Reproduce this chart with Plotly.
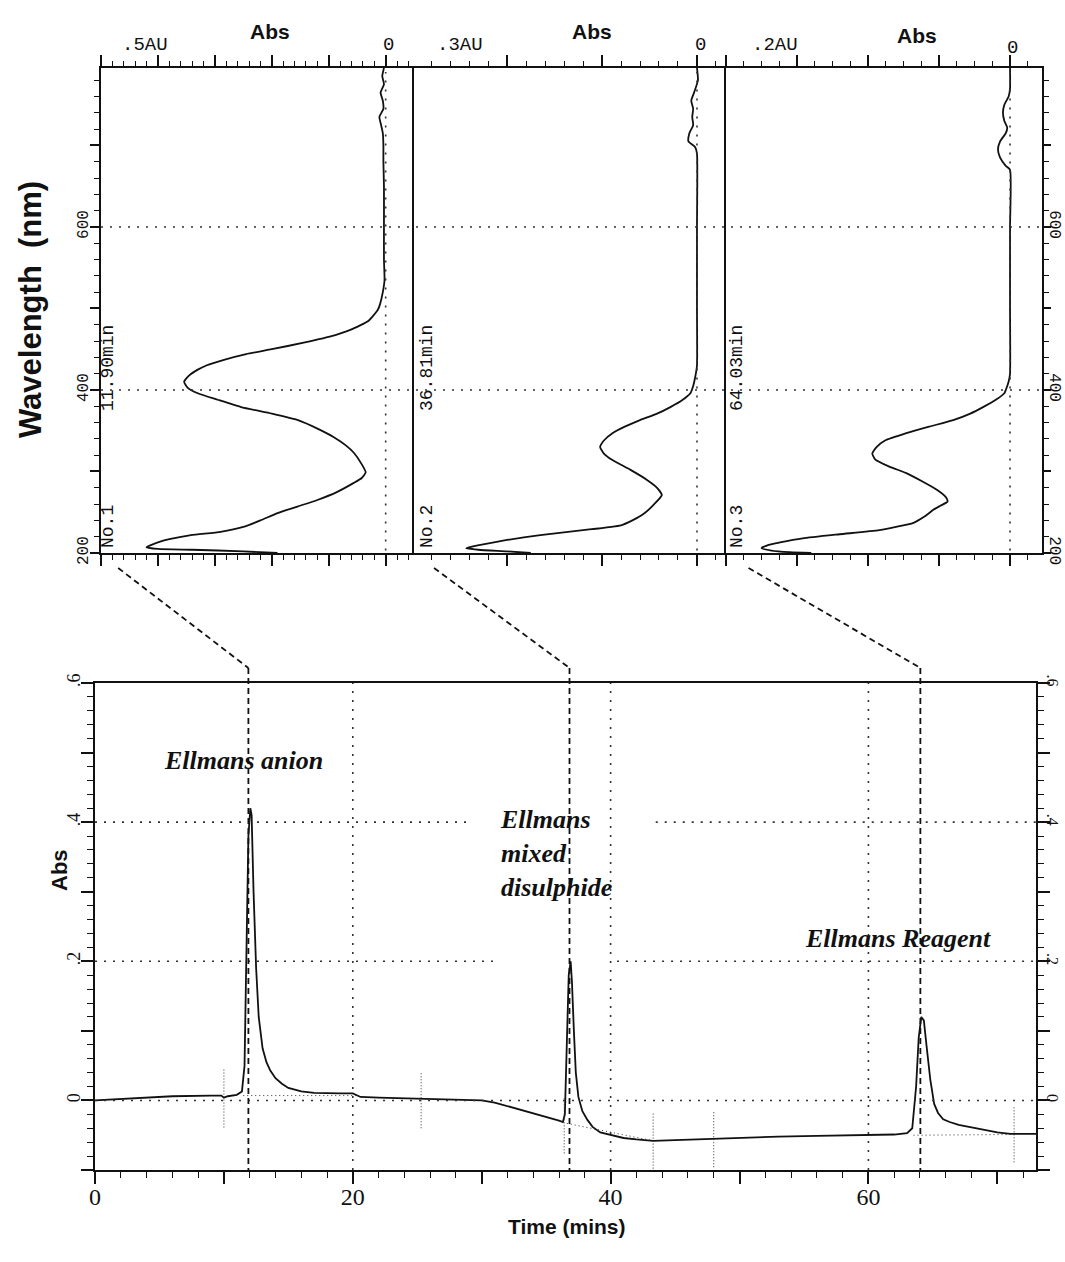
import plotly.graph_objects as go

W, H = 1065, 1262
def PX(px): return px / W
def PY(py): return 1 - py / H

# ---------------- data ----------------
# Spectrum 1 (11.90 min)
P1_WL = [795, 785, 775, 765, 755, 745, 735, 725, 715, 700, 680, 650, 600, 560, 535, 520, 505, 498, 485, 474, 465, 458,
         450, 444, 437, 430, 425, 418, 410, 403, 396, 388, 379, 371, 363, 352, 342, 332, 323, 310, 299, 292,
         286, 275, 265, 257, 249, 240, 232, 226, 222, 217, 213, 207, 205, 204, 202, 200]
P1_ABS = [0.003, 0.006, 0.003, 0.009, 0.005, 0.004, 0.011, 0.008, 0.005, 0.004, 0.004, 0.003, 0.003, 0.003, 0.002, 0.005,
          0.010, 0.014, 0.030, 0.061, 0.100, 0.144, 0.200, 0.245, 0.284, 0.315, 0.330, 0.345, 0.354, 0.348,
          0.330, 0.295, 0.254, 0.200, 0.154, 0.118, 0.091, 0.070, 0.056, 0.043, 0.035, 0.042, 0.056, 0.085,
          0.120, 0.155, 0.190, 0.220, 0.250, 0.290, 0.342, 0.380, 0.400, 0.420, 0.400, 0.340, 0.250, 0.190]
# Spectrum 2 (36.81 min)
P2_WL = [795, 780, 765, 755, 745, 735, 725, 715, 705, 698, 690, 600, 500, 430, 415, 405, 396, 388, 379, 371, 363,
         355, 347, 338, 330, 322, 314, 302, 290, 280, 271, 260, 249, 240, 234, 228, 222, 216, 210, 206, 204, 202, 200]
P2_ABS = [0.000, -0.001, 0.003, 0.006, 0.004, 0.005, 0.004, 0.008, 0.009, 0.002, 0.000, 0.000, 0.000, 0.000,
          0.002, 0.004, 0.007, 0.015, 0.028, 0.042, 0.060, 0.076, 0.089, 0.098, 0.102, 0.098, 0.089, 0.070,
          0.053, 0.042, 0.037, 0.045, 0.055, 0.068, 0.080, 0.120, 0.165, 0.200, 0.228, 0.243, 0.230, 0.200, 0.175]
# Spectrum 3 (64.03 min)
P3_WL = [795, 770, 760, 750, 740, 730, 722, 715, 705, 695, 685, 675, 670, 600, 500, 420, 410, 400, 396, 388, 379,
         371, 363, 355, 347, 338, 330, 322, 315, 306, 298, 288, 277, 268, 263, 258, 253, 245, 237, 228, 223,
         218, 213, 210, 206, 203, 201, 200]
P3_ABS = [0.000, 0.000, 0.001, 0.004, 0.005, 0.004, 0.002, 0.003, 0.007, 0.0085, 0.007, 0.003, 0.000, 0.000, 0.000,
          0.000, 0.001, 0.003, 0.004, 0.010, 0.019, 0.028, 0.040, 0.057, 0.073, 0.088, 0.094, 0.097, 0.095,
          0.085, 0.073, 0.062, 0.051, 0.045, 0.044, 0.049, 0.054, 0.060, 0.068, 0.092, 0.120, 0.146, 0.162,
          0.170, 0.175, 0.168, 0.155, 0.140]

# Chromatogram
T = [0, 3, 6, 9, 9.8, 10, 10.3, 11, 11.4, 11.6, 11.75, 11.9, 12.05, 12.15, 12.3, 12.5, 12.7, 13.0, 13.3, 13.6,
     14.0, 14.5, 15.0, 16, 17, 18, 19, 20, 20.3, 20.6, 22, 24, 26, 28, 30, 31, 32, 33, 34, 35, 36, 36.3, 36.45,
     36.6, 36.75, 36.9, 37.0, 37.15, 37.3, 37.5, 37.8, 38.2, 38.6, 39.2, 40, 41, 42, 43.3, 45, 48, 50, 53, 56,
     60, 62, 63, 63.4, 63.7, 63.9, 64.1, 64.3, 64.5, 64.8, 65.1, 65.4, 65.8, 66.3, 67, 68, 69, 70, 71, 72, 73]
A = [0.000, 0.003, 0.006, 0.007, 0.007, 0.004, 0.006, 0.008, 0.013, 0.050, 0.250, 0.380, 0.420, 0.410, 0.300,
     0.190, 0.120, 0.075, 0.055, 0.043, 0.032, 0.024, 0.018, 0.013, 0.011, 0.010, 0.010, 0.010, 0.008, 0.005,
     0.004, 0.003, 0.002, 0.001, 0.000, -0.003, -0.008, -0.013, -0.019, -0.024, -0.029, -0.031, -0.020, 0.080,
     0.180, 0.200, 0.170, 0.100, 0.040, 0.005, -0.015, -0.028, -0.038, -0.046, -0.050, -0.054, -0.056, -0.058,
     -0.057, -0.055, -0.054, -0.052, -0.051, -0.050, -0.049, -0.047, -0.040, 0.020, 0.090, 0.120, 0.115, 0.080,
     0.030, -0.005, -0.018, -0.027, -0.031, -0.035, -0.039, -0.043, -0.046, -0.048, -0.048, -0.048]

# integration baselines (start t, start abs, end t, end abs)
BASE_T0 = [11.5, 36.6, 63.5]
BASE_A0 = [0.007, -0.033, -0.050]
BASE_T1 = [20.5, 43.3, 71.3]
BASE_A1 = [0.007, -0.058, -0.049]
# integration event markers
MARK_T = [10.0, 25.3, 36.4, 43.3, 48.0, 71.3]
MARK_LO = [-0.039, -0.040, -0.076, -0.098, -0.096, -0.089]
MARK_HI = [0.046, 0.040, 0.004, -0.017, -0.014, -0.007]

RT = [11.90, 36.81, 64.03]
RT_LABELS = ["11.90min", "36.81min", "64.03min"]
NO_LABELS = ["No.1", "No.2", "No.3"]
AU_LABELS = [".5AU", ".3AU", ".2AU"]
WL_TICKS = [200, 300, 400, 500, 600, 700]
WL_TEXT = ["200", "", "400", "", "600", ""]
T_TICKS = [0, 10, 20, 30, 40, 50, 60, 70]
T_TEXT = ["0", "", "20", "", "40", "", "60", ""]
A_TICKS = [-0.1, 0.0, 0.1, 0.2, 0.3, 0.4, 0.5, 0.6]
A_TEXT = ["", "0", "", ".2", "", ".4", "", ".6"]

# ---------------- figure ----------------
BLACK = "#111111"
fig = go.Figure()
for i, (wl, ab) in enumerate([(P1_WL, P1_ABS), (P2_WL, P2_ABS), (P3_WL, P3_ABS)]):
    fig.add_trace(go.Scatter(x=ab, y=wl, mode="lines", xaxis="x" if i == 0 else f"x{i+1}", yaxis="y",
                             line=dict(color=BLACK, width=1.8, shape="spline", smoothing=0.5),
                             showlegend=False, hoverinfo="skip"))
fig.add_trace(go.Scatter(x=[None], y=[None], xaxis="x3", yaxis="y2", showlegend=False, hoverinfo="skip"))
fig.add_trace(go.Scatter(x=T, y=A, mode="lines", xaxis="x4", yaxis="y3",
                         line=dict(color=BLACK, width=1.8), showlegend=False, hoverinfo="skip"))
fig.add_trace(go.Scatter(x=[None], y=[None], xaxis="x4", yaxis="y4", showlegend=False, hoverinfo="skip"))
bx, by = [], []
for t0, a0, t1, a1 in zip(BASE_T0, BASE_A0, BASE_T1, BASE_A1):
    bx += [t0, t1, None]; by += [a0, a1, None]
fig.add_trace(go.Scatter(x=bx, y=by, mode="lines", xaxis="x4", yaxis="y3",
                         line=dict(color="#333", width=1, dash="1px,3px"), showlegend=False, hoverinfo="skip"))
mx, my = [], []
for t, lo, hi in zip(MARK_T, MARK_LO, MARK_HI):
    mx += [t, t, None]; my += [lo, hi, None]
fig.add_trace(go.Scatter(x=mx, y=my, mode="lines", xaxis="x4", yaxis="y3",
                         line=dict(color="#333", width=1, dash="1px,2px"), showlegend=False, hoverinfo="skip"))

MONO = "Liberation Mono"
SERIF = "Liberation Serif"
SANS = "Liberation Sans"

def abs_axis(dom, rng, major, minor):
    vals = [round(k * major, 4) for k in range(0, int(round(rng[0] / major)) + 1)]
    return dict(domain=[PX(dom[0]), PX(dom[1])], anchor="y", side="top", range=rng, automargin=False,
                showline=True, linewidth=2, linecolor=BLACK, mirror="ticks",
                ticks="outside", tickvals=vals, ticklen=11, tickwidth=1.5, tickcolor=BLACK,
                showticklabels=False, showgrid=False, zeroline=False,
                minor=dict(dtick=minor, tick0=0, ticklen=5, tickwidth=1.2, ticks="outside",
                           tickcolor=BLACK, showgrid=False))

def wl_axis(ticklen, standoff):
    return dict(range=[200, 795], tickvals=WL_TICKS, ticktext=WL_TEXT, ticks="outside", ticklen=ticklen,
                tickwidth=1.5, tickcolor=BLACK, showline=True, linewidth=2, linecolor=BLACK, automargin=False,
                showgrid=False, zeroline=False, tickfont=dict(family=MONO, size=16, color=BLACK),
                ticklabelstandoff=standoff,
                minor=dict(dtick=20, tick0=200, ticklen=5, tickwidth=1.2, ticks="outside", tickcolor=BLACK))

def a_axis(standoff, size):
    return dict(range=[-0.1, 0.6], tickvals=A_TICKS, ticktext=A_TEXT, ticks="outside", ticklen=12,
                tickwidth=1.5, tickcolor=BLACK, showline=True, linewidth=2, linecolor=BLACK, automargin=False,
                showgrid=False, zeroline=False, tickfont=dict(family=SERIF, size=size, color=BLACK),
                ticklabelstandoff=standoff,
                minor=dict(dtick=0.02, tick0=0, ticklen=6, tickwidth=1.2, ticks="outside", tickcolor=BLACK))

fig.update_layout(
    width=W, height=H, margin=dict(l=0, r=0, t=0, b=0, pad=0, autoexpand=False),
    paper_bgcolor="white", plot_bgcolor="white", showlegend=False,
    xaxis=abs_axis((101, 413), [0.5, -0.048], 0.1, 0.02),
    xaxis2=abs_axis((413, 725), [0.299, -0.0295], 0.1, 0.02),
    xaxis3=abs_axis((725, 1042), [0.2007, -0.0225], 0.05, 0.0125),
    yaxis=dict(domain=[PY(553), PY(68)], anchor="x", side="left", tickangle=-90, **wl_axis(9, -4)),
    yaxis2=dict(overlaying="y", anchor="x3", side="right", tickangle=90, **wl_axis(7, -7)),
    xaxis4=dict(domain=[PX(95), PX(1036)], anchor="y3", range=[0, 73], tickvals=T_TICKS, ticktext=T_TEXT,
                ticks="outside", ticklen=12, tickwidth=1.5, tickcolor=BLACK, showline=True, linewidth=2,
                linecolor=BLACK, mirror=True, showgrid=False, zeroline=False, automargin=False,
                tickfont=dict(family=SERIF, size=24, color=BLACK), ticklabelstandoff=-8,
                minor=dict(dtick=2, tick0=0, ticklen=6, tickwidth=1.2, ticks="outside", tickcolor=BLACK)),
    yaxis3=dict(domain=[PY(1170), PY(683)], anchor="x4", side="left", tickangle=-90, **a_axis(-6, 18)),
    yaxis4=dict(overlaying="y3", anchor="x4", side="right", tickangle=90, **a_axis(-9, 16)),
)

DOT = dict(color="#333", width=1.6, dash="2px,7px")
shapes = []
# panel separators
for px in [413, 725]:
    shapes.append(dict(type="line", xref="paper", yref="paper", x0=PX(px), x1=PX(px), y0=PY(553), y1=PY(68),
                       line=dict(color=BLACK, width=2)))
# wavelength grid
for wl in [400, 600]:
    shapes.append(dict(type="line", xref="paper", yref="y", x0=PX(101), x1=PX(1042), y0=wl, y1=wl, line=DOT))
for xr in ["x", "x2", "x3"]:
    shapes.append(dict(type="line", xref=xr, yref="y", x0=0, x1=0, y0=203, y1=790, line=DOT))
# chromatogram grid
GRID_H = [(0.0, 0, 73), (0.2, 0, 31), (0.2, 40.5, 73), (0.4, 0, 29), (0.4, 43.5, 73)]
for yv, t0, t1 in GRID_H:
    shapes.append(dict(type="line", xref="x4", yref="y3", x0=t0, x1=t1, y0=yv, y1=yv, line=DOT))
for tv in [20, 40, 60]:
    shapes.append(dict(type="line", xref="x4", yref="y3", x0=tv, x1=tv, y0=-0.1, y1=0.6, line=DOT))
# connectors
CONN_START_T = [1.8, 26.3, 50.7]
DASH = dict(color=BLACK, width=1.8, dash="6px,4px")
for t0, rt in zip(CONN_START_T, RT):
    shapes.append(dict(type="line", xref="x4", yref="paper", x0=t0, x1=rt, y0=PY(568), y1=PY(668), line=DASH))
    shapes.append(dict(type="line", xref="x4", yref="paper", x0=rt, x1=rt, y0=PY(668), y1=PY(1170), line=DASH))
fig.update_layout(shapes=shapes)

ann = []
def txt(s, x, y, size, family, angle=0, bold=False, italic=False, align="center"):
    if bold: s = f"<b>{s}</b>"
    if italic: s = f"<i>{s}</i>"
    ann.append(dict(text=s, x=PX(x), y=PY(y), xref="paper", yref="paper", showarrow=False,
                    textangle=angle, align=align, font=dict(family=family, size=size, color=BLACK),
                    xanchor="center", yanchor="middle"))

for x, y in [(270, 32), (592, 32), (917, 36)]:
    txt("Abs", x, y, 21, SANS, bold=True)
for lab, x in zip(AU_LABELS, [145, 460, 775]):
    txt(lab, x, 45, 19, MONO)
for x, y in [(388, 45), (700, 45), (1012, 48)]:
    txt("0", x, y, 19, MONO)
for lab, x in zip(RT_LABELS, [108, 427, 737]):
    txt(lab, x, 368, 18, MONO, angle=-90)
for lab, x in zip(NO_LABELS, [108, 427, 737]):
    txt(lab, x, 527, 18, MONO, angle=-90)
txt("Wavelength  (nm)", 30, 310, 31, SANS, angle=-90, bold=True)
txt("Abs", 60, 870, 22, SANS, angle=-90, bold=True)
txt("Time (mins)", 566, 1226, 21, SANS, bold=True)
txt("Ellmans anion", 243, 760, 26, SERIF, bold=True, italic=True)
ann.append(dict(text="<b><i>Ellmans<br>mixed<br>disulphide</i></b>", x=PX(498), y=PY(853), xref="paper",
                yref="paper", showarrow=False, align="left", xanchor="left", yanchor="middle",
                font=dict(family=SERIF, size=26, color=BLACK)))
txt("Ellmans Reagent", 898, 938, 26, SERIF, bold=True, italic=True)
fig.update_layout(annotations=ann)

fig.write_html("out.html")
